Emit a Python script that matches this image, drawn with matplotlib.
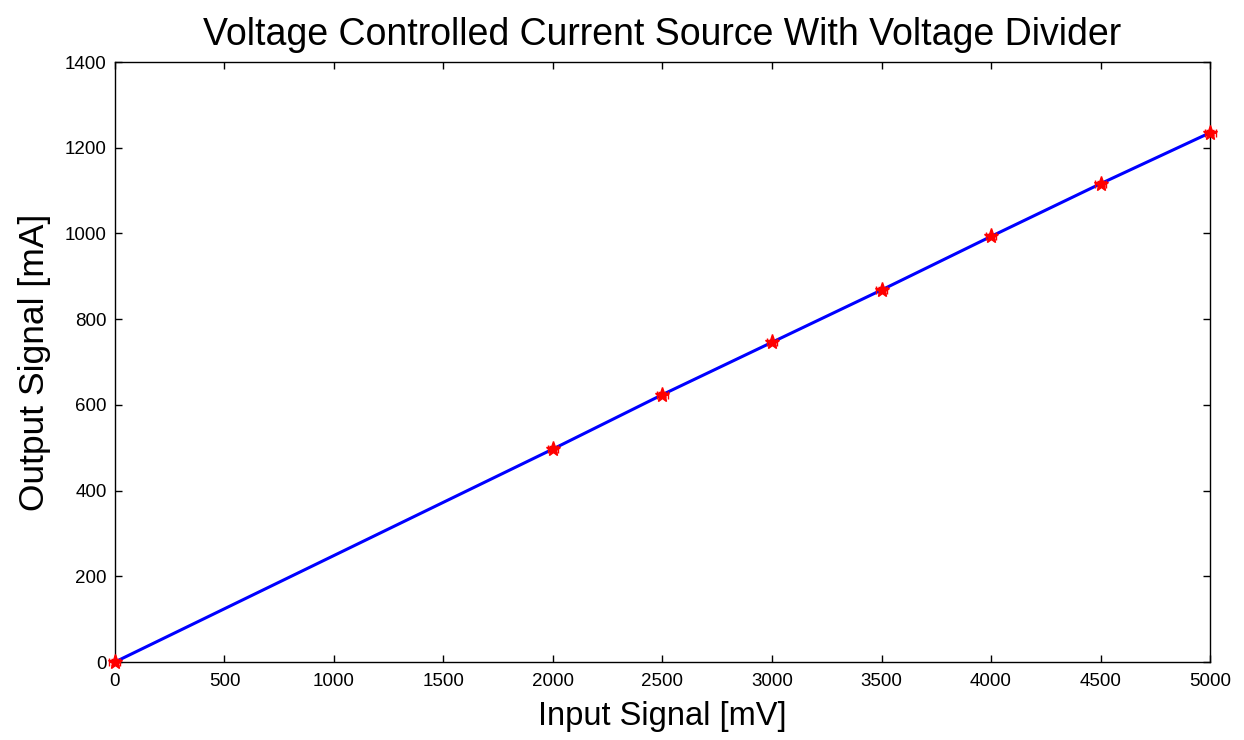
import numpy as np
import matplotlib.pyplot as plt

# measured points (input mV, output mA)
input_mv = [0, 2000, 2500, 3000, 3500, 4000, 4500, 5000]
output_ma = [0, 497, 624, 746, 868, 993, 1116, 1235]
err_ma = [6, 6, 6, 6, 6, 6, 6, 6]
err_mv = [25, 25, 25, 25, 25, 25, 25, 25]

x_ticks = [0, 500, 1000, 1500, 2000, 2500, 3000, 3500, 4000, 4500, 5000]
y_ticks = [0, 200, 400, 600, 800, 1000, 1200, 1400]

plt.rcParams["font.family"] = ["Liberation Sans", "DejaVu Sans"]

fig = plt.figure(figsize=(12.44, 7.4), dpi=100)
ax = fig.add_axes([0.0924, 0.1054, 0.8803, 0.8108])

ax.plot(input_mv, output_ma, color="blue", linewidth=2.2, zorder=2)
ax.errorbar(input_mv, output_ma, yerr=err_ma, xerr=err_mv, fmt="*", color="red",
            markersize=11, elinewidth=1.2, capsize=3, zorder=3, clip_on=False)

ax.set_xlim(0, 5000)
ax.set_ylim(0, 1400)
ax.set_xticks(x_ticks)
ax.set_yticks(y_ticks)
ax.tick_params(direction="in", top=True, right=True, labelsize=13.5, length=5, width=1)
ax.tick_params(axis="x", pad=8)
ax.tick_params(axis="y", pad=6)
for s in ax.spines.values():
    s.set_linewidth(1)

ax.set_xlabel("Input Signal [mV]", fontsize=23.5, labelpad=8)
ax.set_ylabel("Output Signal [mA]", fontsize=25.5, labelpad=10)
ax.set_title("Voltage Controlled Current Source With Voltage Divider", fontsize=27, pad=12)

fig.savefig("out.png", dpi=100)
